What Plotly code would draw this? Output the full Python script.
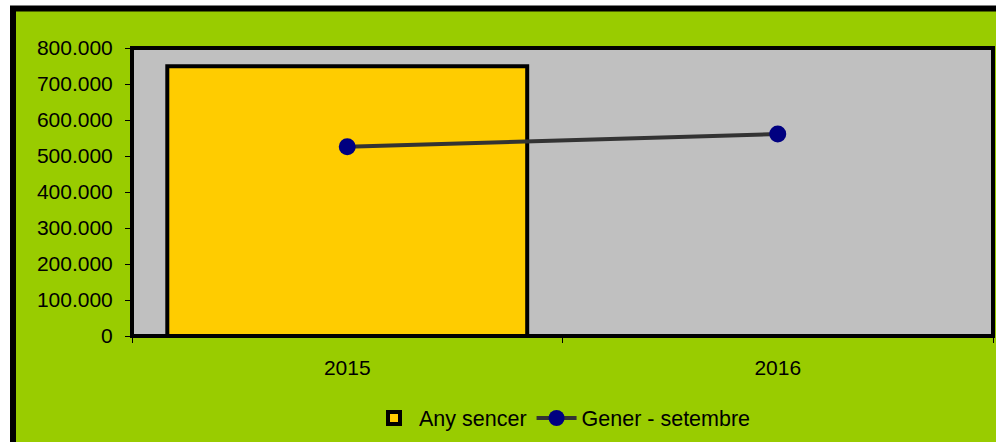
import plotly.graph_objects as go

categories = ["2015", "2016"]
any_sencer = [749000, None]
gener_setembre = [526000, 561000]
bar_name = "Any sencer"
line_name = "Gener - setembre"

W, H = 996, 442
L, R, T, B = 132, 3, 48, 106
pw, ph = W - L - R, H - T - B

def px_x(p):
    return (p - L) / pw

def px_y(p):
    return (H - B - p) / ph

fig = go.Figure()
fig.add_trace(go.Bar(
    x=categories, y=any_sencer, name=bar_name,
    marker=dict(color="#FFCC00", line=dict(color="black", width=4)),
    width=0.836,
))
fig.add_trace(go.Scatter(
    x=categories, y=gener_setembre, name=line_name, mode="lines+markers",
    line=dict(color="#333333", width=4),
    marker=dict(color="#000080", size=17, line=dict(width=0)),
))

font = dict(family="Arial, Liberation Sans, sans-serif", size=21, color="black")
lfont = dict(family="Arial, Liberation Sans, sans-serif", size=21.5, color="black")

fig.update_layout(
    width=W, height=H,
    margin=dict(l=L, r=R, t=T, b=B, pad=0),
    paper_bgcolor="white",
    plot_bgcolor="#C0C0C0",
    font=font,
    separators=",.",
    showlegend=True,
    legend=dict(orientation="h", x=0.5, xanchor="center", y=px_y(418), yanchor="middle",
                bgcolor="rgba(0,0,0,0)", font=lfont, itemwidth=40, tracegroupgap=0),
    xaxis=dict(type="category", tickson="boundaries", ticks="outside", ticklen=6,
               tickcolor="black", tickwidth=1, showgrid=False, zeroline=False,
               showline=False, range=[-0.5, 1.5], tickfont=font, ticklabelstandoff=17),
    yaxis=dict(range=[0, 800000], dtick=100000, tickformat=",.0f", ticks="outside",
               ticklen=6, tickcolor="black", tickwidth=1, showgrid=False, zeroline=False,
               showline=False, tickfont=font, ticklabelstandoff=8),
    shapes=[
        dict(type="rect", xref="paper", yref="paper", layer="below",
             x0=px_x(13), x1=px_x(1005), y0=px_y(445), y1=px_y(8.5),
             fillcolor="#99CC00", line=dict(color="black", width=6)),
        dict(type="rect", xref="paper", yref="paper", layer="below",
             x0=0, x1=1, y0=0, y1=1,
             fillcolor="#C0C0C0", line=dict(width=0)),
        dict(type="rect", xref="paper", yref="paper", layer="above",
             x0=0, x1=1, y0=0, y1=1,
             fillcolor="rgba(0,0,0,0)", line=dict(color="black", width=4)),
    ],
)

fig.write_html("out.html", config={"displayModeBar": False},
               post_script="document.body.style.margin='0px';")
